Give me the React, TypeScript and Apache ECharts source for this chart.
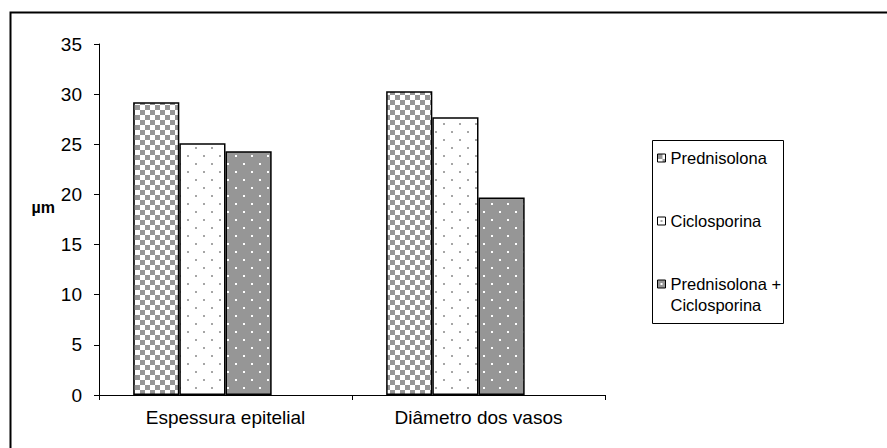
import React, { useEffect, useRef } from "react";
import * as echarts from "echarts";

const categories = ["Espessura epitelial", "Diâmetro dos vasos"];
const seriesNames = ["Prednisolona", "Ciclosporina", "Prednisolona + Ciclosporina"];
const prednisolona = [29.2, 30.3];
const ciclosporina = [25.1, 27.7];
const combinada = [24.3, 19.7];
// empty fourth slot in each group (the source chart leaves room for it)
const emptySlot = ["-", "-"];
const yMin = 0;
const yMax = 35;
const yStep = 5;
const yAxisName = "µm";

function makeChecker(): HTMLCanvasElement {
  const c = document.createElement("canvas");
  c.width = 10;
  c.height = 10;
  const g = c.getContext("2d")!;
  g.fillStyle = "#ffffff";
  g.fillRect(0, 0, 10, 10);
  g.fillStyle = "#969696";
  g.fillRect(0, 0, 5, 5);
  g.fillRect(5, 5, 5, 5);
  return c;
}

function makeDots(bg: string, dot: string): HTMLCanvasElement {
  const c = document.createElement("canvas");
  c.width = 16;
  c.height = 16;
  const g = c.getContext("2d")!;
  g.fillStyle = bg;
  g.fillRect(0, 0, 16, 16);
  g.fillStyle = dot;
  g.fillRect(3, 3, 2, 2);
  g.fillRect(11, 11, 2, 2);
  return c;
}

export default function App() {
  const ref = useRef<HTMLDivElement>(null);
  useEffect(() => {
    if (!ref.current) return;
    const chart = echarts.init(ref.current, null, { renderer: "svg" });
    const patterns = [
      { image: makeChecker(), repeat: "repeat" },
      { image: makeDots("#ffffff", "#a6a6a6"), repeat: "repeat" },
      { image: makeDots("#969696", "#ffffff"), repeat: "repeat" },
    ];
    const values = [prednisolona, ciclosporina, combinada];
    const font = "'Liberation Sans', Arial, sans-serif";
    const series: any[] = seriesNames.map((name, i) => ({
      name,
      type: "bar",
      data: values[i],
      barGap: "0%",
      barCategoryGap: "27%",
      itemStyle: { color: patterns[i], borderColor: "#000", borderWidth: 1.5 },
    }));
    series.push({
      name: "",
      type: "bar",
      data: emptySlot,
      barGap: "0%",
      barCategoryGap: "27%",
      itemStyle: { color: "#fff" },
    });
    chart.setOption({
      animation: false,
      backgroundColor: "#ffffff",
      textStyle: { fontFamily: font },
      grid: { left: 99, right: 282, top: 44, bottom: 53, containLabel: false },
      xAxis: {
        type: "category",
        data: categories,
        axisLine: { lineStyle: { color: "#000", width: 1 } },
        axisTick: { show: true, length: 5, alignWithLabel: false, lineStyle: { color: "#000" } },
        axisLabel: { color: "#000", fontSize: 19, margin: 13, fontFamily: font },
      },
      yAxis: {
        type: "value",
        min: yMin,
        max: yMax,
        interval: yStep,
        name: yAxisName,
        nameLocation: "middle",
        nameRotate: 0,
        nameGap: 42,
        nameTextStyle: {
          color: "#000",
          fontSize: 16,
          fontWeight: "bold",
          fontFamily: font,
          verticalAlign: "bottom",
          padding: [0, 0, 4, 0],
        },
        axisLine: { show: true, lineStyle: { color: "#000", width: 1 } },
        axisTick: { show: true, length: 5, lineStyle: { color: "#000" } },
        splitLine: { show: false },
        axisLabel: { color: "#000", fontSize: 19, margin: 17, fontFamily: font },
      },
      legend: {
        orient: "vertical",
        left: 657,
        top: 126.5,
        padding: 0,
        itemGap: 0,
        itemWidth: 8,
        itemHeight: 8,
        icon: "rect",
        itemStyle: { borderColor: "#000", borderWidth: 1 },
        textStyle: { color: "#000", fontSize: 16.5, lineHeight: 21, fontFamily: font },
        formatter: (name: string) =>
          name === seriesNames[2] ? "\nPrednisolona +\nCiclosporina" : name,
        data: [
          { name: seriesNames[0], textStyle: { padding: [21, 0, 21, 0] } },
          { name: seriesNames[1], textStyle: { padding: [21, 0, 21, 0] } },
          { name: seriesNames[2], textStyle: { padding: 0 } },
        ],
      },
      graphic: [
        {
          type: "rect",
          shape: { x: 10.5, y: 12.5, width: 1000, height: 1000 },
          style: { fill: "none", stroke: "#000", lineWidth: 2 },
          silent: true,
        },
        {
          type: "rect",
          shape: { x: 652.5, y: 140.5, width: 131, height: 183 },
          style: { fill: "none", stroke: "#000", lineWidth: 1 },
          silent: true,
        },
      ],
      series,
    });
    return () => chart.dispose();
  }, []);
  return (
    <div
      ref={ref}
      style={{ position: "absolute", left: 0, top: 0, width: 887, height: 448 }}
    />
  );
}
